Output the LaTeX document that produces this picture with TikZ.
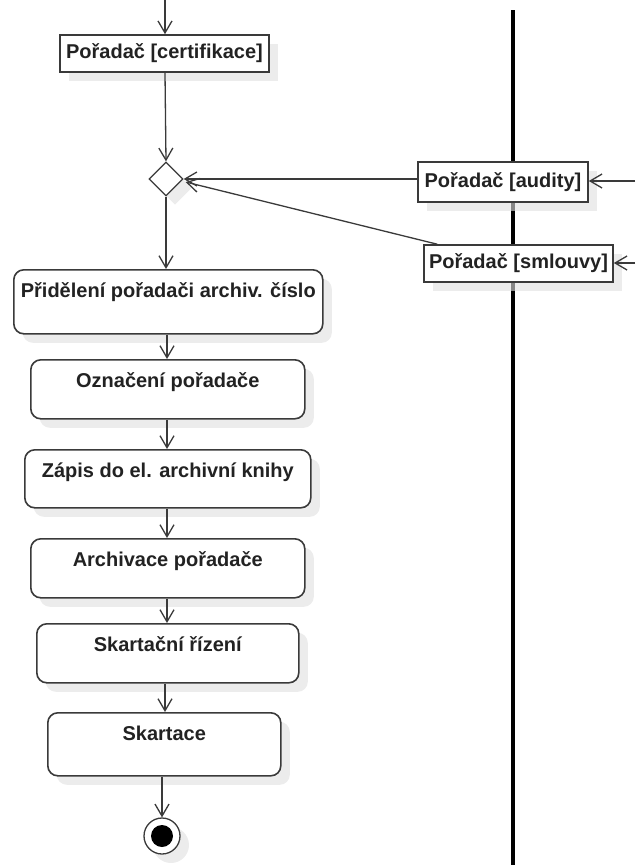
\documentclass[tikz,border=0pt]{standalone}
\usepackage{fontspec}
\setmainfont{Liberation Sans}
\usetikzlibrary{arrows.meta,shapes.geometric,shadows,calc}
\definecolor{edge}{HTML}{3A3A3A}
\definecolor{ink}{HTML}{222222}
\tikzset{
  shade box/.style={drop shadow={shadow xshift=9pt,shadow yshift=-9pt,fill=black!12,opacity=0.6}},
  objbox/.style={draw=edge,line width=1.6pt,fill=white,shade box,inner sep=0pt,
    text=ink,font=\fontsize{20}{23}\selectfont\bfseries},
  actbox/.style={draw=edge,line width=1.6pt,fill=white,shade box,rounded corners=10pt,
    inner xsep=0pt,inner ysep=0pt,text height=28pt,anchor=north west,
    text=ink,font=\fontsize{20}{23}\selectfont\bfseries},
  merge/.style={diamond,draw=edge,line width=1.3pt,fill=white,shade box,inner sep=0pt,
    minimum width=34pt,minimum height=34pt},
  flow/.style={draw=edge,line width=1.3pt,-{Straight Barb[length=12pt,width=14pt,line width=1.3pt]}},
  lane/.style={line width=4pt,black}
}
\begin{document}
\begin{tikzpicture}[x=1pt,y=-1pt]
\useasboundingbox (0,0) rectangle (635,865);

% swimlane separator
\coordinate (laneTop) at (513,10);
\coordinate (laneBot) at (513,865);
\draw[lane] (laneTop) -- (laneBot);

% object nodes
\node[objbox,minimum width=209pt,minimum height=37pt] (cert) at (164.5,53.5) {Pořadač [certifikace]};
\node[objbox,minimum width=170pt,minimum height=40pt] (aud) at (503,182) {Pořadač [audity]};
\node[objbox,minimum width=189pt,minimum height=37pt] (sml) at (518.5,263.5) {Pořadač [smlouvy]};

% merge node
\node[merge] (m) at (166,179) {};

% actions
\node[actbox,minimum width=309pt,text depth=36pt] (a1) at (13,269) {Přidělení pořadači archiv. číslo};
\node[actbox,minimum width=274pt,text depth=31pt] (a2) at (30,359) {Označení pořadače};
\node[actbox,minimum width=286pt,text depth=30pt] (a3) at (24,449) {Zápis do el. archivní knihy};
\node[actbox,minimum width=274pt,text depth=31pt] (a4) at (30,538) {Archivace pořadače};
\node[actbox,minimum width=262pt,text depth=31pt] (a5) at (36,623) {Skartační řízení};
\node[actbox,minimum width=233pt,text depth=35pt] (a6) at (47,712) {Skartace};

% final node
\node[circle,draw=edge,line width=1.3pt,fill=white,shade box,minimum size=36pt,inner sep=0pt] (fin) at (162,836) {};
\node[circle,fill=black,minimum size=22pt,inner sep=0pt] (finDot) at (fin.center) {};

% incoming free ends
\coordinate (inTop) at (165,0);
\coordinate (inAud) at (635,181);
\coordinate (inSml) at (635,263);

% connectors
\draw[flow] (inTop) -- (inTop |- cert.north);
\draw[flow] (inTop |- cert.south) -- (m.north);
\draw[flow] (inAud) -- (inAud -| aud.east);
\draw[flow] (inSml) -- (inSml -| sml.east);
\draw[flow] (aud.west |- m.east) -- (m.east);
\draw[flow] ($(sml.north west)+(14,0)$) -- ($(m.east)+(2,3)$);
\draw[flow] (m.south) -- (m.south |- a1.north);
\draw[flow] (167,0 |- a1.south) -- (167,0 |- a2.north);
\draw[flow] (167,0 |- a2.south) -- (167,0 |- a3.north);
\draw[flow] (167,0 |- a3.south) -- (167,0 |- a4.north);
\draw[flow] (167,0 |- a4.south) -- (167,0 |- a5.north);
\draw[flow] (165,0 |- a5.south) -- (165,0 |- a6.north);
\draw[flow] (fin.center |- a6.south) -- (fin.north);
\end{tikzpicture}
\end{document}
